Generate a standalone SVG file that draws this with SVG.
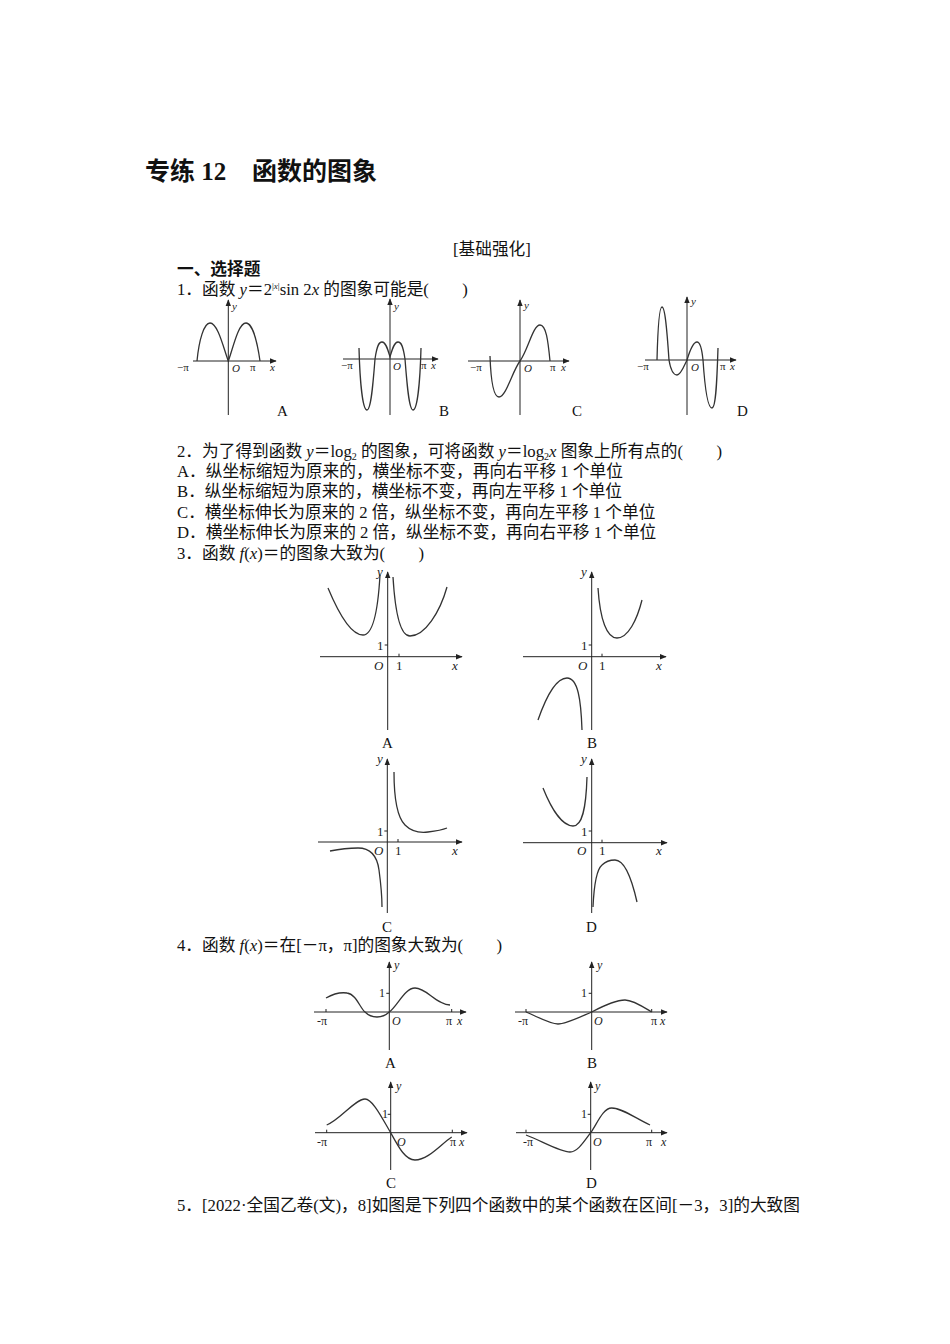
<svg xmlns="http://www.w3.org/2000/svg" width="950" height="1344" viewBox="0 0 950 1344">
<defs>
<marker id="arr" viewBox="0 0 10 10" refX="9" refY="5" markerWidth="7" markerHeight="7" orient="auto" markerUnits="userSpaceOnUse"><path d="M0,1 L10,5 L0,9 Z" fill="#222"/></marker>
<style>
.t{font-family:"Liberation Serif","Noto Sans CJK SC",serif;font-size:16.7px;fill:#111}
.title{font-family:"Liberation Serif","Noto Sans CJK SC",serif;font-size:25px;font-weight:bold;fill:#111}
.ax{stroke:#222;stroke-width:1;fill:none}
.cv{stroke:#333;stroke-width:1.3;fill:none}
.l{font-family:"Liberation Serif",serif;font-size:11px;fill:#222}
.li{font-family:"Liberation Serif",serif;font-size:11px;font-style:italic;fill:#222}
.l3{font-family:"Liberation Serif",serif;font-size:13px;fill:#222}
.l3i{font-family:"Liberation Serif",serif;font-size:13px;font-style:italic;fill:#222}
.l4{font-family:"Liberation Serif",serif;font-size:12px;fill:#222}
.l4i{font-family:"Liberation Serif",serif;font-size:12px;font-style:italic;fill:#222}
.op{font-family:"Liberation Serif",serif;font-size:15px;fill:#111}
.i{font-style:italic}
</style>
</defs>
<rect width="950" height="1344" fill="#fff"/>

<g id="text">
<text class="title" x="145" y="180">专练 12<tspan x="252">函数的图象</tspan></text>
<text class="t" x="453" y="255">[基础强化]</text>
<text class="t" x="177" y="275" font-weight="bold">一、选择题</text>
<text class="t" x="177" y="295">1．函数 <tspan class="i">y</tspan>＝2<tspan font-size="9" dy="-6">|<tspan class="i">x</tspan>|</tspan><tspan dy="6">sin 2</tspan><tspan class="i">x</tspan> 的图象可能是(　　)</text>
<text class="t" x="177" y="457">2．为了得到函数 <tspan class="i">y</tspan>＝log<tspan font-size="10" dy="3">2</tspan><tspan dy="-3"> 的图象，可将函数 </tspan><tspan class="i">y</tspan>＝log<tspan font-size="10" dy="3">2</tspan><tspan class="i" dy="-3">x</tspan> 图象上所有点的(　　)</text>
<text class="t" x="177" y="477">A．纵坐标缩短为原来的，横坐标不变，再向右平移 1 个单位</text>
<text class="t" x="177" y="497">B．纵坐标缩短为原来的，横坐标不变，再向左平移 1 个单位</text>
<text class="t" x="177" y="518">C．横坐标伸长为原来的 2 倍，纵坐标不变，再向左平移 1 个单位</text>
<text class="t" x="177" y="538">D．横坐标伸长为原来的 2 倍，纵坐标不变，再向右平移 1 个单位</text>
<text class="t" x="177" y="559">3．函数 <tspan class="i">f</tspan>(<tspan class="i">x</tspan>)＝的图象大致为(　　)</text>
<text class="t" x="177" y="951">4．函数 <tspan class="i">f</tspan>(<tspan class="i">x</tspan>)＝在[－π，π]的图象大致为(　　)</text>
<text class="t" x="177" y="1211">5．[2022·全国乙卷(文)，8]如图是下列四个函数中的某个函数在区间[－3，3]的大致图</text>
</g>

<!-- Question 1 graphs -->
<g id="q1A">
<line class="ax" x1="193" y1="361" x2="276" y2="361" marker-end="url(#arr)"/>
<line class="ax" x1="228.3" y1="415" x2="228.3" y2="300" marker-end="url(#arr)"/>
<path class="cv" d="M197,361 C199,340 204,323 210,323 C218,323 224,350 228.3,361 C232.6,350 238,323 246,323 C252,323 257,340 260,361"/>
<text class="li" x="232" y="310">y</text>
<text class="l" x="177" y="371">−π</text>
<text class="li" x="232" y="372">O</text>
<text class="l" x="250" y="371">π</text>
<text class="li" x="270" y="371">x</text>
<text class="op" x="277" y="416">A</text>
</g>
<g id="q1B">
<line class="ax" x1="343" y1="359" x2="438" y2="359" marker-end="url(#arr)"/>
<line class="ax" x1="390" y1="415" x2="390" y2="299" marker-end="url(#arr)"/>
<path class="cv" d="M359,348 C360,385 363,410 367,410 C371,410 373,385 375,359 C377,345 379,342 382,342 C386,342 388,350 390,357 C392,350 394,342 398,342 C401,342 403,345 405,359 C407,385 409,410 413,410 C417,410 420,385 421,348"/>
<text class="li" x="394" y="310">y</text>
<text class="l" x="341" y="369">−π</text>
<text class="li" x="393" y="370">O</text>
<text class="l" x="421" y="369">π</text>
<text class="li" x="431" y="369">x</text>
<text class="op" x="439" y="416">B</text>
</g>
<g id="q1C">
<line class="ax" x1="468" y1="361" x2="569" y2="361" marker-end="url(#arr)"/>
<line class="ax" x1="520" y1="415" x2="520" y2="300" marker-end="url(#arr)"/>
<path class="cv" d="M490,356 C491,385 494,397 499,397 C506,397 512,372 520,361 C528,350 533,325 540,325 C546,325 548,340 550,361"/>
<text class="li" x="524" y="309">y</text>
<text class="l" x="470" y="371">−π</text>
<text class="li" x="524" y="372">O</text>
<text class="l" x="550" y="371">π</text>
<text class="li" x="561" y="371">x</text>
<text class="op" x="572" y="416">C</text>
</g>
<g id="q1D">
<line class="ax" x1="645" y1="360" x2="736" y2="360" marker-end="url(#arr)"/>
<line class="ax" x1="687" y1="415" x2="687" y2="297" marker-end="url(#arr)"/>
<path class="cv" d="M657,360 C658,320 660,307 662,307 C665,307 667,330 669,360 C671,372 674,375 677,375 C681,375 684,366 687,360 C690,350 693,342 697,342 C700,342 702,350 703,360 C705,390 708,408 712,408 C716,408 717,380 718,348"/>
<text class="li" x="691" y="305">y</text>
<text class="l" x="637" y="370">−π</text>
<text class="li" x="691" y="371">O</text>
<text class="l" x="720" y="370">π</text>
<text class="li" x="730" y="370">x</text>
<text class="op" x="737" y="416">D</text>
</g>

<!-- Question 3 graphs -->
<g id="q3A">
<line class="ax" x1="320" y1="656.7" x2="462" y2="656.7" marker-end="url(#arr)"/>
<line class="ax" x1="387.7" y1="730" x2="387.7" y2="572" marker-end="url(#arr)"/>
<line class="ax" x1="384.7" y1="645" x2="387.7" y2="645"/>
<line class="ax" x1="399" y1="653.7" x2="399" y2="656.7"/>
<path class="cv" d="M328,588 C338,612 350,635 363,635 C373,635 378,610 380,575"/>
<path class="cv" d="M393,577 C395,610 400,636 410,636 C425,636 440,612 447,587"/>
<text class="l3i" x="377" y="576">y</text>
<text class="l3" x="377" y="650">1</text>
<text class="l3i" x="374" y="670">O</text>
<text class="l3" x="396" y="670">1</text>
<text class="l3i" x="452" y="670">x</text>
<text class="op" x="382" y="748">A</text>
</g>
<g id="q3B">
<line class="ax" x1="523" y1="656.7" x2="666" y2="656.7" marker-end="url(#arr)"/>
<line class="ax" x1="591.7" y1="730" x2="591.7" y2="572" marker-end="url(#arr)"/>
<line class="ax" x1="588.7" y1="645" x2="591.7" y2="645"/>
<line class="ax" x1="602" y1="653.7" x2="602" y2="656.7"/>
<path class="cv" d="M598,588 C600,620 607,638 617,638 C628,638 637,620 642,600"/>
<path class="cv" d="M538,720 C545,700 555,678 567,678 C578,678 581,700 582,730"/>
<text class="l3i" x="581" y="576">y</text>
<text class="l3" x="581" y="650">1</text>
<text class="l3i" x="578" y="670">O</text>
<text class="l3" x="599" y="670">1</text>
<text class="l3i" x="656" y="670">x</text>
<text class="op" x="587" y="748">B</text>
</g>
<g id="q3C">
<line class="ax" x1="318" y1="842" x2="462" y2="842" marker-end="url(#arr)"/>
<line class="ax" x1="387.3" y1="913" x2="387.3" y2="759" marker-end="url(#arr)"/>
<line class="ax" x1="384.3" y1="831" x2="387.3" y2="831"/>
<line class="ax" x1="398" y1="839" x2="398" y2="842"/>
<path class="cv" d="M394,772 C394,800 397,817 405,825 C412,832 420,833 428,832 C436,831 442,830 447,828"/>
<path class="cv" d="M330,851 C340,849 350,848 358,848 C370,848 377,855 379,870 C381,885 382,900 382,907"/>
<text class="l3i" x="377" y="763">y</text>
<text class="l3" x="377" y="836">1</text>
<text class="l3i" x="374" y="855">O</text>
<text class="l3" x="395" y="855">1</text>
<text class="l3i" x="452" y="855">x</text>
<text class="op" x="382" y="932">C</text>
</g>
<g id="q3D">
<line class="ax" x1="523" y1="842.7" x2="667" y2="842.7" marker-end="url(#arr)"/>
<line class="ax" x1="591.7" y1="913" x2="591.7" y2="759" marker-end="url(#arr)"/>
<line class="ax" x1="588.7" y1="831" x2="591.7" y2="831"/>
<line class="ax" x1="602" y1="839.7" x2="602" y2="842.7"/>
<path class="cv" d="M543,788 C551,808 562,826 573,826 C582,826 586,810 587,777"/>
<path class="cv" d="M593,907 C594,885 596,870 602,865 C606,861 610,860 615,860 C625,860 632,880 637,902"/>
<text class="l3i" x="581" y="763">y</text>
<text class="l3" x="581" y="836">1</text>
<text class="l3i" x="577" y="855">O</text>
<text class="l3" x="599" y="855">1</text>
<text class="l3i" x="656" y="855">x</text>
<text class="op" x="586" y="932">D</text>
</g>

<!-- Question 4 graphs -->
<g id="q4A">
<line class="ax" x1="314" y1="1012" x2="466" y2="1012" marker-end="url(#arr)"/>
<line class="ax" x1="389.3" y1="1050" x2="389.3" y2="962" marker-end="url(#arr)"/>
<line class="ax" x1="386.3" y1="993.3" x2="389.3" y2="993.3"/>
<line class="ax" x1="326" y1="1009" x2="326" y2="1012"/>
<line class="ax" x1="451.7" y1="1009" x2="451.7" y2="1012"/>
<path class="cv" d="M326,998 C333,994 340,992 347,993 C356,994 360,1008 365,1012 C369,1016 372,1017 377,1017 C383,1017 386,1015 389.3,1012 C398,1005 405,988 415,988 C427,988 435,1004 450,1005"/>
<text class="l4i" x="394" y="969">y</text>
<text class="l4" x="379" y="997">1</text>
<text class="l4" x="317" y="1025">-π</text>
<text class="l4i" x="392" y="1025">O</text>
<text class="l4" x="446" y="1025">π</text>
<text class="l4i" x="457" y="1025">x</text>
<text class="op" x="385" y="1068">A</text>
</g>
<g id="q4B">
<line class="ax" x1="515" y1="1012" x2="667" y2="1012" marker-end="url(#arr)"/>
<line class="ax" x1="591.7" y1="1050" x2="591.7" y2="962" marker-end="url(#arr)"/>
<line class="ax" x1="588.7" y1="993.3" x2="591.7" y2="993.3"/>
<line class="ax" x1="526" y1="1009" x2="526" y2="1012"/>
<line class="ax" x1="651.7" y1="1009" x2="651.7" y2="1012"/>
<path class="cv" d="M526,1012 C538,1017 550,1024 558,1024 C566,1024 580,1017 591.7,1012 C603,1006 617,1000 625,1000 C633,1000 645,1008 651.7,1012"/>
<text class="l4i" x="597" y="969">y</text>
<text class="l4" x="581" y="997">1</text>
<text class="l4" x="518" y="1025">-π</text>
<text class="l4i" x="594" y="1025">O</text>
<text class="l4" x="651" y="1025">π</text>
<text class="l4i" x="660" y="1025">x</text>
<text class="op" x="587" y="1068">B</text>
</g>
<g id="q4C">
<line class="ax" x1="315" y1="1132.7" x2="467" y2="1132.7" marker-end="url(#arr)"/>
<line class="ax" x1="390.7" y1="1170" x2="390.7" y2="1082" marker-end="url(#arr)"/>
<line class="ax" x1="387.7" y1="1114.3" x2="390.7" y2="1114.3"/>
<line class="ax" x1="326.7" y1="1129.7" x2="326.7" y2="1132.7"/>
<line class="ax" x1="452.3" y1="1129.7" x2="452.3" y2="1132.7"/>
<path class="cv" d="M326.7,1125 C340,1120 355,1099 365,1099 C373,1099 383,1120 390.7,1132.7 C398,1146 405,1160 415,1160 C428,1160 440,1145 451.7,1137"/>
<text class="l4i" x="396" y="1090">y</text>
<text class="l4" x="382" y="1118">1</text>
<text class="l4" x="317" y="1146">-π</text>
<text class="l4i" x="397" y="1146">O</text>
<text class="l4" x="450" y="1146">π</text>
<text class="l4i" x="459" y="1146">x</text>
<text class="op" x="386" y="1188">C</text>
</g>
<g id="q4D">
<line class="ax" x1="516" y1="1132.7" x2="667" y2="1132.7" marker-end="url(#arr)"/>
<line class="ax" x1="590.7" y1="1170" x2="590.7" y2="1082" marker-end="url(#arr)"/>
<line class="ax" x1="587.7" y1="1114.3" x2="590.7" y2="1114.3"/>
<line class="ax" x1="526" y1="1129.7" x2="526" y2="1132.7"/>
<line class="ax" x1="651.7" y1="1129.7" x2="651.7" y2="1132.7"/>
<path class="cv" d="M526,1135 C540,1140 560,1152 570,1152 C578,1152 585,1140 590.7,1132.7 C597,1124 603,1108 611.7,1108 C622,1108 635,1118 650,1125"/>
<text class="l4i" x="595" y="1090">y</text>
<text class="l4" x="581" y="1118">1</text>
<text class="l4" x="523" y="1146">-π</text>
<text class="l4i" x="593" y="1146">O</text>
<text class="l4" x="646" y="1146">π</text>
<text class="l4i" x="661" y="1146">x</text>
<text class="op" x="586" y="1188">D</text>
</g>
</svg>
